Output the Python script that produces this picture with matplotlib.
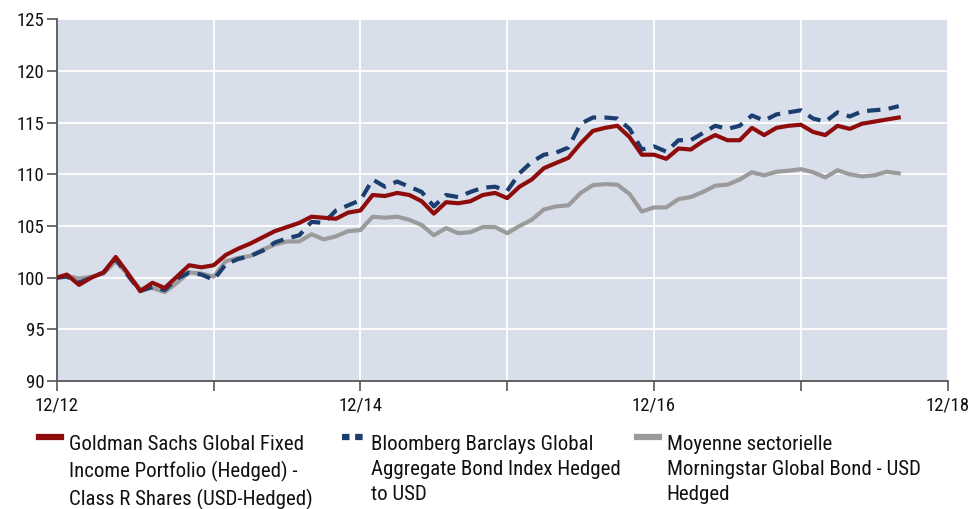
import matplotlib
matplotlib.use("Agg")
import matplotlib.pyplot as plt
from matplotlib import font_manager
from matplotlib.lines import Line2D

# ── Data (monthly, first point is the start value) ───────────────────────────
months = [-0.82] + list(range(0, 69))

gs_fund = [100.0,
           100.3, 99.3, 100.0, 100.5, 102.0, 100.4, 98.7, 99.5, 99.0, 100.1, 101.2, 101.0,
           101.2, 102.2, 102.8, 103.3, 103.9, 104.5, 104.9, 105.3, 105.9, 105.8, 105.7, 106.3,
           106.5, 108.0, 107.9, 108.2, 108.0, 107.4, 106.2, 107.3, 107.2, 107.4, 108.0, 108.2,
           107.7, 108.8, 109.5, 110.6, 111.1, 111.6, 113.0, 114.2, 114.5, 114.7, 113.6, 111.9,
           111.9, 111.5, 112.5, 112.4, 113.2, 113.8, 113.3, 113.3, 114.5, 113.8, 114.5, 114.7,
           114.8, 114.1, 113.8, 114.7, 114.4, 114.9, 115.1, 115.3, 115.5]

bbg_index = [100.0,
             100.1, 99.5, 100.0, 100.5, 101.8, 100.2, 98.7, 99.1, 98.8, 99.9, 100.5, 100.3,
             99.8, 101.3, 101.8, 102.1, 102.6, 103.4, 103.8, 104.1, 105.4, 105.3, 106.5, 107.0,
             107.5, 109.5, 108.8, 109.3, 108.8, 108.3, 106.9, 108.0, 107.8, 108.3, 108.7, 108.8,
             108.4, 110.1, 111.2, 111.9, 112.1, 112.6, 114.9, 115.5, 115.5, 115.4, 114.4, 112.4,
             112.7, 112.2, 113.3, 113.3, 114.0, 114.7, 114.4, 114.7, 115.7, 115.2, 115.8, 116.0,
             116.2, 115.4, 115.1, 116.0, 115.6, 116.1, 116.2, 116.3, 116.6]

sector_avg = [100.0,
              100.2, 99.9, 100.1, 100.4, 101.6, 100.3, 98.9, 99.0, 98.6, 99.5, 100.5, 100.4,
              100.1, 101.6, 101.9, 102.1, 102.7, 103.2, 103.5, 103.5, 104.2, 103.7, 104.0, 104.5,
              104.6, 105.9, 105.8, 105.9, 105.6, 105.1, 104.1, 104.8, 104.3, 104.4, 104.9, 104.9,
              104.3, 105.0, 105.6, 106.6, 106.9, 107.0, 108.2, 108.95, 109.05, 109.0, 108.1, 106.4,
              106.8, 106.8, 107.6, 107.8, 108.3, 108.9, 109.0, 109.5, 110.2, 109.9, 110.25, 110.35,
              110.5, 110.2, 109.7, 110.4, 110.0, 109.8, 109.9, 110.25, 110.1]

labels = ["Goldman Sachs Global Fixed\nIncome Portfolio (Hedged) -\nClass R Shares (USD-Hedged)",
          "Bloomberg Barclays Global\nAggregate Bond Index Hedged\nto USD",
          "Moyenne sectorielle\nMorningstar Global Bond - USD\nHedged"]

tick_pos = [-0.82, 12, 24, 36, 48, 60, 72]
tick_labels = ["12/12", "", "12/14", "", "12/16", "", "12/18"]
y_ticks = [90, 95, 100, 105, 110, 115, 120, 125]

# ── Style ────────────────────────────────────────────────────────────────────
C_RED = "#8e0c0c"
C_BLUE = "#1b3e6f"
C_GRAY = "#9b9b9b"
C_BG = "#d9dfea"
C_AXIS = "#555555"

names = {f.name for f in font_manager.fontManager.ttflist}
FONT = next((n for n in ("Roboto Condensed", "Archivo Narrow", "Asap Condensed",
                         "Barlow Condensed") if n in names), "DejaVu Sans")
plt.rcParams["font.family"] = FONT

fig = plt.figure(figsize=(9.79, 5.09), dpi=100)
ax = fig.add_axes([0.058, 0.2515, 0.91, 0.7105])
ax.set_facecolor(C_BG)

ax.plot(months, sector_avg, color=C_GRAY, linewidth=3.0, zorder=3)
ax.plot(months, bbg_index, color=C_BLUE, linewidth=3.0, linestyle=(0, (3.2, 2.0)), zorder=4)
ax.plot(months, gs_fund, color=C_RED, linewidth=3.0, zorder=5)

ax.set_xlim(tick_pos[0], tick_pos[-1])
ax.set_ylim(90, 125)
ax.set_xticks(tick_pos)
ax.set_xticklabels(tick_labels, fontsize=13.5)
ax.set_yticks(y_ticks)
ax.set_yticklabels([str(v) for v in y_ticks], fontsize=13.5)
ax.grid(True, color="white", linewidth=1.3, zorder=1)
ax.set_axisbelow(True)

for side in ("top", "right"):
    ax.spines[side].set_visible(False)
for side in ("left", "bottom"):
    ax.spines[side].set_color(C_AXIS)
    ax.spines[side].set_linewidth(1.3)
ax.tick_params(axis="both", direction="out", length=7, width=1.2, color=C_AXIS,
               labelcolor="#111111")
ax.tick_params(axis="x", pad=4)
ax.tick_params(axis="y", pad=2)

# ── Legend (manual, three columns) ───────────────────────────────────────────
leg_x = [0.040, 0.349, 0.651]
styles = [dict(color=C_RED, linestyle="-"),
          dict(color=C_BLUE, linestyle=(0, (1.2, 0.9))),
          dict(color=C_GRAY, linestyle="-")]
for x0, lab, st in zip(leg_x, labels, styles):
    fig.add_artist(Line2D([x0, x0 + 0.022], [0.1415, 0.1415], linewidth=4.5,
                          transform=fig.transFigure, **st))
    fig.text(x0 + 0.030, 0.145, lab, fontsize=15, va="top", ha="left",
             color="#111111", linespacing=1.4)

fig.savefig("out.png", dpi=100)
